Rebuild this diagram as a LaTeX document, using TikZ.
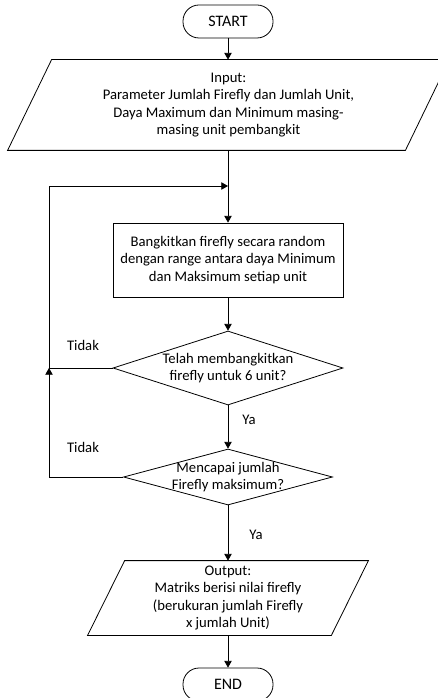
\documentclass[tikz,border=0pt]{standalone}
\usepackage{fontspec}
\setmainfont{Carlito}
\usetikzlibrary{shapes.geometric,arrows.meta}

\begin{document}
\begin{tikzpicture}[x=.75pt,y=-.75pt,
        font=\fontsize{11pt}{13.1pt}\selectfont,
        line width=.6pt,
        terminal/.style={draw,rectangle,rounded corners=12pt,minimum width=67.5pt,minimum height=24.75pt,
            font=\fontsize{12pt}{14pt}\selectfont},
        io/.style={rectangle,align=center,inner sep=0pt},
        proses/.style={draw,rectangle,align=center,minimum width=172.5pt,minimum height=55.5pt},
        cek/.style={draw,diamond,inner sep=0pt},
        arr/.style={-{Triangle[length=5pt,width=5.5pt]}}]
                    \useasboundingbox (0,0) rectangle (438,698);
                    \node[terminal] (mulai) at (228,21.5) {START};
                    \node[io,minimum width=297.75pt,minimum height=67.5pt] (input) at (228.5,105)
                        {Input:\\Parameter Jumlah Firefly dan Jumlah Unit,\\Daya Maximum dan Minimum masing-\\masing unit pembangkit};
                    \draw ([xshift=16.5pt]input.north west) -- ([xshift=16.5pt]input.north east)
                        -- ([xshift=-16.5pt]input.south east) -- ([xshift=-16.5pt]input.south west) -- cycle;
                    \node[proses] (bangkit) at (228,260)
                        {Bangkitkan firefly secara random\\dengan range antara daya Minimum\\dan Maksimum setiap unit};
                    \node[cek,minimum width=172.5pt,minimum height=55.5pt,
                        label={[align=center]center:{Telah membangkitkan\\firefly untuk 6 unit?}}] (cekunit) at (228,368) {};
                    \node[cek,minimum width=156.75pt,minimum height=42pt,
                        label={[align=center]center:{Mencapai jumlah\\Firefly maksimum?}}] (cekmaks) at (228,477) {};
                    \node[io,minimum width=182.25pt,minimum height=55.5pt] (output) at (228,598)
                        {Output:\\Matriks berisi nilai firefly\\(berukuran jumlah Firefly\\x jumlah Unit)};
                    \draw ([xshift=13.9pt]output.north west) -- ([xshift=13.9pt]output.north east)
                        -- ([xshift=-13.9pt]output.south east) -- ([xshift=-13.9pt]output.south west) -- cycle;
                    \node[terminal] (selesai) at (228,684.5) {END};
                    \coordinate (kiri1) at (49,186);
                    \coordinate (kiri2) at (49,368);
                    \coordinate (gabung) at (228,186);
                    \draw[arr] (mulai) -- (mulai |- input.north);
                    \draw[arr] (input.south -| bangkit) -- (bangkit);
                    \draw[arr] (bangkit) -- (cekunit);
                    \draw[arr] (cekunit) -- (cekmaks);
                    \draw[arr] (cekmaks) -- (output);
                    \draw[arr] (output) -- (selesai);
                    \draw[arr] (cekunit.west) -| (kiri1) -- (gabung);
                    \draw[arr] (cekmaks.west) -| (kiri2);
                    \node (tidak1) at (83,345) {Tidak};
                    \node (tidak2) at (83,447) {Tidak};
                    \node (ya1) at (249,420) {Ya};
                    \node (ya2) at (256,535) {Ya};
                \end{tikzpicture}
\end{document}
